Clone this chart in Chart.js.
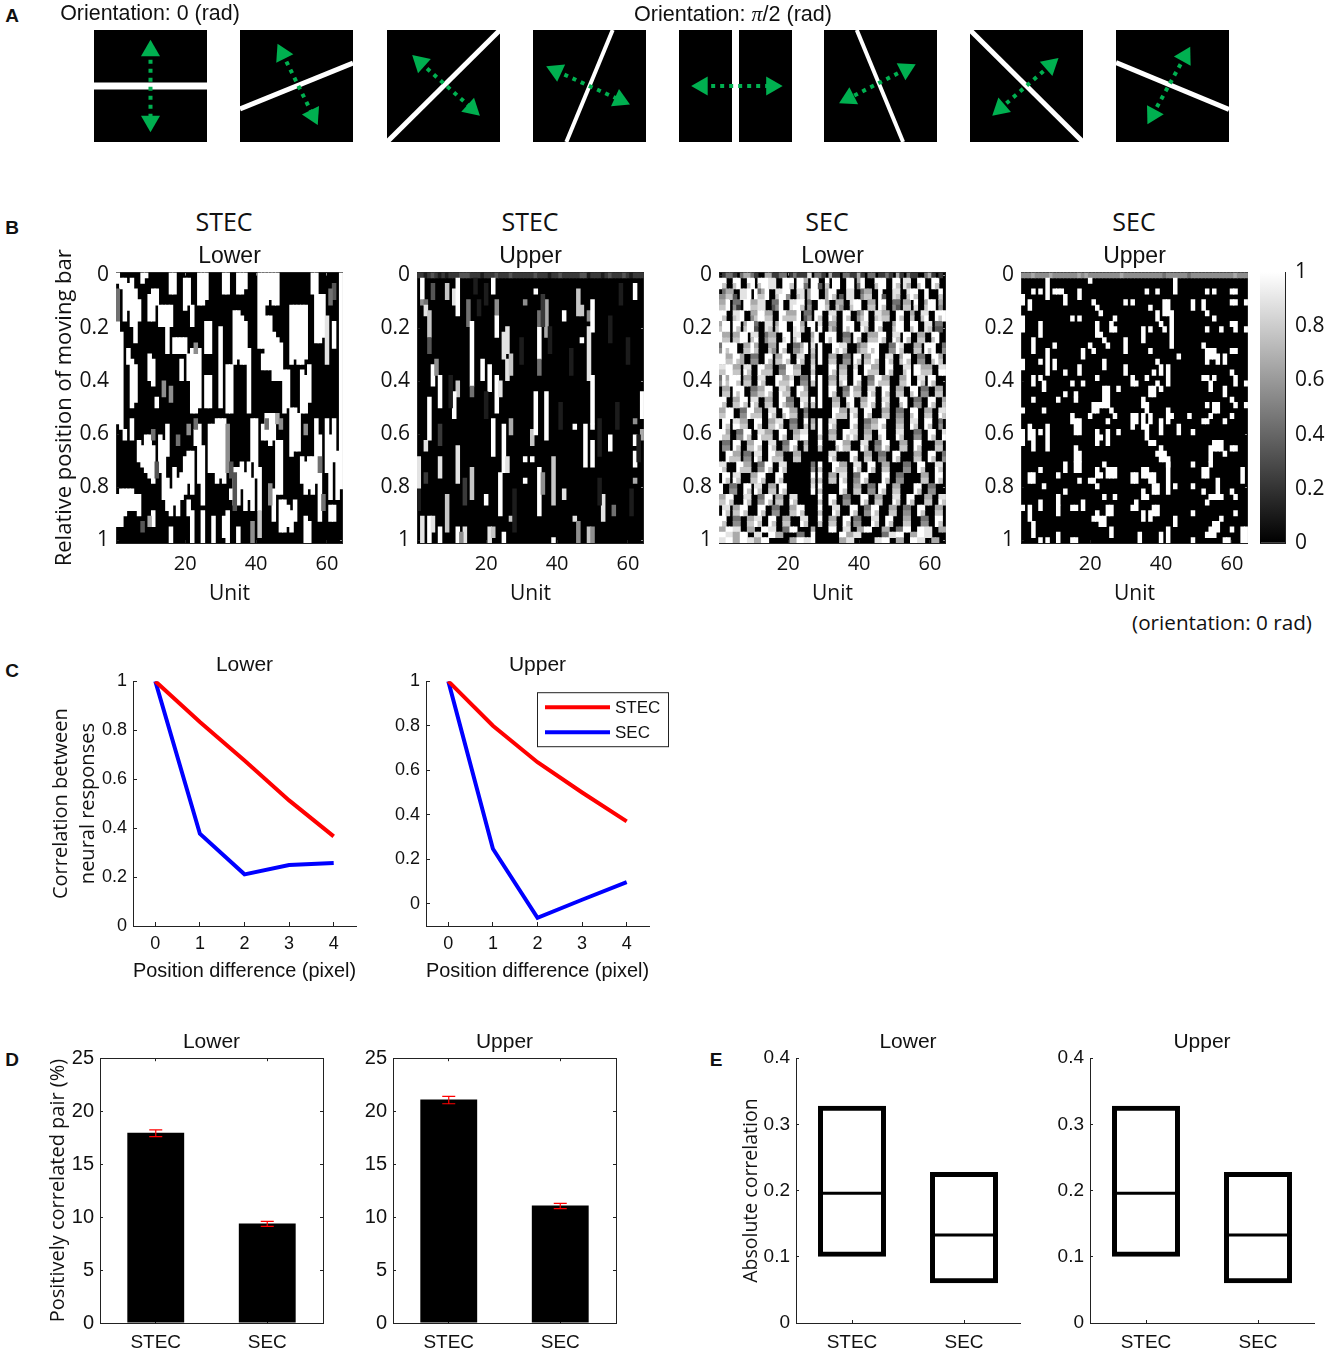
<!DOCTYPE html>
<html>
<head>
<meta charset="utf-8">
<title>Neural response figure</title>
<script src="https://cdn.jsdelivr.net/npm/chart.js@4"></script>
<style>
  body { margin: 0; background: #fff; width: 1325px; height: 1352px; position: relative; overflow: hidden; }
  canvas { position: absolute; }
  .lbl { position: absolute; white-space: nowrap; color: #111; transform: translate(-50%, -50%); }
</style>
</head>
<body>
<script>
// Panel A: bar end points and arrow heads, in a -1..1 box
var barEnds = [
  [[-1, 0], [1, 0]], [[-1, -0.41], [1, 0.41]], [[-1, -1], [1, 1]], [[-0.41, -1], [0.41, 1]],
  [[0, -1], [0, 1]], [[-0.42, 1], [0.4, -1]], [[-1, 1], [1, -1]], [[-1, 0.42], [1, -0.42]]
];
var arrowEnds = [
  [[0, 0.63], [0, -0.63]], [[-0.25, 0.58], [0.29, -0.52]], [[-0.41, 0.42], [0.5, -0.4]], [[-0.59, 0.27], [0.54, -0.25]],
  [[-0.59, 0], [0.64, 0]], [[0.45, 0.3], [-0.56, -0.22]], [[0.42, 0.37], [-0.46, -0.4]], [[0.22, 0.53], [-0.35, -0.51]]
];
var barWidths = [7, 5, 5, 4, 7, 4, 5, 5];
var squareLefts = [94, 240, 387, 533, 679, 824, 970, 1116];

// Panel B: responses, levels 0 (black) to 9 (white), rows 0..49, units 1..64
var positionTicks = [0, 0.2, 0.4, 0.6, 0.8, 1];
var unitTicks = [20, 40, 60];

// white runs per unit: from,to,from,to...
var stecLowerWhite = [
  [0,1,9,27,41,46],[1,2,11,28,40,46],[1,8,29,30,40,44],[2,6,14,16,40,43],[1,9,16,24,27,30,40,43],[3,12,17,23,41,43],
  [5,8,31,34,41,44],[0,1,32,35],[0,0,30,36],[4,8,15,19,30,37],[3,8,16,20,32,38,44,46],[3,5,23,24],
  [6,9,30,36],[6,9,31,41],[6,14,28,33,38,43],[0,3,6,9,40,44,47,49],[0,3,12,14,36,42],[12,14,38,44],
  [12,14,16,19,37,41],[1,6,12,14,34,40],[1,5,15,19,33,38,42,44],[6,9,14,25,33,40,44,49],[14,25,29,31],[0,5,14,24,28,38],
  [0,5,32,42,44,49],[0,4,9,14,19,24],[9,14,19,24,28,36],[28,36,45,49],[27,38],[10,24,27,37],[0,3,27,38,45,48],
  [0,3,17,25,44,49],[17,25,40,41],[7,16,36,42],[0,3,7,15,36,42,47,49],[0,3,8,16,35,39],[0,2,9,16,37,43],[14,25,35,41],
  [27,34,38,43],[27,37],[0,13,36,43],[0,13,15,17,28,30],[0,5,8,17,26,30],[0,4,8,17,26,31],[0,5,11,19,26,30,40,45],
  [0,5,12,19,31,40],[13,19,31,40,42,47],[18,25,42,47],[18,24,43,46],[6,16,25,33,44,47],[6,15,25,32,42,45],[6,16,26,32],
  [6,16,18,25,34,38],[6,15,19,25,35,40,45,49],[17,23,34,39,46,49],[0,3,34,40],[0,3,4,12,27,38],[4,12,30,45],[4,11],
  [27,36],[30,41,43,45],[9,13,27,34,43,45],[33,41],[0,39]
];
// unit, first row, last row, level
var stecLowerGray = [
  [1,3,8,4],[23,13,14,5],[11,29,30,4],[12,35,37,3],[14,20,22,5],[16,21,23,5],[18,30,31,4],[21,28,29,5],[23,27,28,4],
  [32,28,36,5],[33,35,37,3],[34,37,43,3],[43,27,28,4],[44,39,42,5],[46,26,27,6],[47,27,28,5],[54,28,29,5],[58,34,36,4],
  [59,41,43,4],[62,2,4,3],[61,3,5,4],[39,46,49,5],[41,44,48,7],[10,45,46,6],[8,46,47,3],[60,8,16,8]
];

var stecUpperTop = "2212321212223332221222322232222223222122322222331222123222321222";
var stecUpperCells = [
  [2,1,4,9],[2,5,5,5],[3,5,5,4],[3,6,7,8],[4,7,11,7],[4,12,14,3],[5,2,4,3],[9,2,4,7],[11,3,5,8],[12,1,7,9],
  [15,5,9,4],[16,9,20,9],[16,21,22,4],[19,16,19,9],[21,17,21,9],[22,1,3,9],[23,5,7,5],[23,8,11,9],
  [25,11,15,8],[26,10,14,8],[26,16,19,8],[27,15,18,7],[31,5,5,5],[34,3,3,9],[35,10,15,9],[35,16,18,4],[35,7,9,4],[37,5,11,6],
  [42,7,8,9],[46,3,7,7],[47,6,7,7],[47,12,12,9],[49,7,8,5],[49,10,19,8],[50,5,10,9],[50,19,27,9],[50,31,35,9],[62,2,4,9],
  [5,17,20,9],[6,16,18,5],[7,19,24,9],[4,23,30,9],[3,31,32,8],[12,20,22,7],[11,22,26,9],[7,34,37,8],[12,32,38,8],
  [1,34,39,8],[16,36,41,7],[20,41,42,9],[24,37,44,9],[25,28,36,9],[26,34,36,8],[22,27,33,9],[23,19,25,9],[24,20,22,8],
  [27,27,29,6],[33,29,31,7],[34,22,29,9],[37,22,30,9],[31,34,34,9],[31,38,38,9],[33,34,34,9],[35,36,44,9],[36,37,40,5],[39,34,42,7],
  [42,40,41,8],[45,28,28,9],[48,28,35,9],[50,28,28,9],[53,41,45,8],[55,30,32,9],[62,27,27,5],[62,30,31,9],[62,33,35,9],[62,38,38,6],
  [64,22,26,9],[64,29,30,6],[56,43,44,4],[2,45,49,8],[4,45,49,9],[5,45,47,8],[7,47,49,9],[9,41,47,7],[12,47,49,9],
  [14,47,49,8],[13,48,49,5],[21,47,49,8],[22,47,48,7],[25,48,49,9],[27,45,45,7],[39,49,49,9],[45,45,45,8],[46,46,49,5],
  [49,47,49,7],[50,47,49,5],[3,37,38,2],[7,28,31,2],[1,40,43,1],[10,19,24,1],[14,38,42,2],[17,1,3,1],[18,5,7,1],[20,2,5,1],
  [20,22,26,1],[28,40,47,1],[30,12,16,1],[36,4,9,2],[38,10,14,1],[41,24,28,1],[44,14,18,1],[52,27,33,1],[52,38,42,1],
  [58,2,5,1],[60,12,16,1],[61,40,44,1],[63,30,34,1],[55,8,12,1],[57,24,28,1]
];

var secUpperTop = "5556555565555555656555555555655555555555455555545555555555556555";
var secUpperCells = [
  [8,1,4],[4,3,3],[6,3,3],[10,3,3],[11,3,3],[12,3,3],[13,4,5],[17,3,4],[20,1,1],[36,3,3],[39,3,3],[44,1,3],[53,3,3],[55,3,3],[60,3,3],[61,3,3],
  [1,4,5],[3,5,6],[21,5,5],[22,6,6],[23,7,7],[30,5,5],[32,5,5],[37,6,6],[39,7,8],[41,5,7],[42,5,7],[49,5,6],[52,5,6],[53,7,7],[60,5,5],[61,5,5],[64,5,5],
  [15,8,8],[17,8,8],[22,9,11],[23,11,11],[24,12,12],[25,13,13],[27,8,8],[26,9,10],[27,10,10],[35,10,12],[37,10,10],[40,9,9],[41,10,10],[43,7,13],[55,8,8],[53,10,10],[57,10,10],[60,9,9],[61,9,10],[64,10,10],[1,8,10],[6,9,11],
  [4,12,14],[10,13,13],[20,13,13],[21,14,14],[30,12,14],[37,14,14],[18,14,15],[45,15,15],[52,13,13],[53,14,16],[54,14,15],[55,14,15],[56,15,16],[58,15,16],[60,14,14],[61,14,14],[6,16,16],[1,16,17],[8,14,18],[10,16,17],
  [13,18,18],[17,17,18],[24,16,17],[30,17,18],[39,16,16],[38,18,18],[40,17,18],[42,17,20],[4,19,20],[6,19,19],[7,20,21],[15,20,20],[16,22,22],[18,20,20],[22,19,19],[32,19,20],[33,20,20],[36,19,19],[38,21,22],[39,20,20],[40,21,21],[52,19,19],[53,19,19],[54,20,21],[55,19,19],[60,18,18],[61,19,20],[64,20,20],
  [24,21,24],[25,21,24],[23,24,24],[21,24,25],[22,24,25],[26,25,25],[27,26,26],[16,23,23],[11,23,23],[13,22,22],[4,23,23],[1,25,25],[7,25,25],[20,26,26],[28,21,21],[35,23,24],[36,24,25],[37,21,22],[42,25,27],[43,26,26],[48,26,26],[53,24,24],[55,24,25],[56,24,25],[54,26,26],[60,23,23],[61,24,24],[58,21,22],[64,24,24],
  [15,26,27],[16,27,29],[17,27,29],[25,27,27],[32,26,28],[33,26,27],[35,26,28],[36,28,30],[37,26,27],[40,27,29],[45,28,29],[52,27,27],[53,27,27],[58,27,27],[60,26,26],[3,28,30],[4,29,32],[6,29,29],[8,28,32],[1,29,31],
  [22,29,31],[23,30,30],[25,29,31],[28,29,29],[16,32,34],[17,33,34],[37,31,31],[38,31,31],[39,33,33],[40,32,34],[41,33,34],[49,29,29],[55,31,32],[56,31,32],[57,31,32],[54,32,34],[58,33,33],[60,32,32],[61,32,32],[42,34,35],
  [42,35,40],[13,35,36],[16,35,36],[17,35,36],[6,36,36],[3,37,38],[4,37,38],[11,37,37],[17,38,38],[20,38,38],[21,38,38],[22,36,37],[24,35,35],[25,36,37],[26,36,37],[27,36,37],[23,37,37],[32,37,38],[33,37,38],[35,36,37],[36,36,37],[37,37,38],[38,37,38],[49,35,35],[52,36,37],[53,36,37],[54,35,35],[63,36,38],
  [7,39,39],[11,41,42],[13,40,40],[6,42,43],[22,39,39],[24,41,41],[27,41,41],[33,42,43],[35,40,41],[36,41,41],[38,39,40],[39,39,40],[44,39,39],[49,39,39],[56,38,41],[54,41,41],[55,41,41],[57,41,41],[52,40,40],[53,42,42],[60,40,40],[61,41,41],
  [3,43,45],[1,43,43],[11,43,44],[15,43,43],[16,43,43],[18,42,43],[22,44,44],[25,43,44],[26,43,44],[21,45,45],[22,45,45],[23,45,46],[24,45,46],[26,47,48],[32,43,43],[35,44,45],[37,44,45],[38,43,44],[39,43,44],[44,45,46],[49,44,44],[54,47,48],[55,46,48],[56,46,47],[57,45,45],[53,48,48],[61,44,44],
  [4,46,48],[60,47,47],[6,49,49],[8,49,49],[11,48,49],[15,49,49],[16,49,49],[34,48,49],[40,48,49],[42,47,49],[49,49,49],[58,49,49],[59,49,49],[63,47,49],[64,47,49]
];

var secLowerRows = [
  "0244204664200662244024222804420622044226204402242062042200462020",
  "9900990099099988009990996099009099009906900099900990880099009900",
  "9700790079079988009970994099307099009904900079900970860079009700",
  "0466008890946900889900880699006990008800466009000880089900900090",
  "5577308890977900799500780699006970308800577009300870079700900070",
  "6690440996688004490088990400996006600899006609900440660900699060",
  "7790520997788003590089970500997007500799007709700530770800799050",
  "9900889006699660099666904409900880099004690088660099006008800999",
  "9700789005799770097777903509700970097005790078770097007007900979",
  "6990990699400880699009960990800660099900880099000699009900880440",
  "7990970799300870799008970090900750097900970097000799007900870330",
  "9660669908800466009908800069009990044099006669900880990066009900",
  "9770779907900577008907900079009790055097007779700970970077007900",
  "4999900669600066099004469080900099880004669990004498000660999004",
  "5979900779700075097005579070900097970005779790005597000770979005",
  "9966996004400990669900880060900660044099066990088006990044009960",
  "9977976005500970779700970070900770055097077970097007970055007970",
  "8899660880099660044996600080000990660080099660099000880996660088",
  "7799770970097770055997700070000970770090097770097000790997770099",
  "4969990660088000996680044090900660880099004499660006690088099000",
  "5979970770097000977790055070900770790097005597770007790097097000",
  "0660999004466990088600996000900990044966008800990066009904400660",
  "0770979005577970097700977000900970055977009700970077007905500770",
  "9900669908800660099440088090900066009900669900880009900440099006",
  "9700779709700770097550097070900077007900779700970007900550097007",
  "6699004499660088009966004000000099660880099000660044009900660088",
  "7799005597770097007977005000000097770970097000770055007900770097",
  "0990886600990066880044009060900880000990044669900066008800990040",
  "0970997700970077970055007070900970000970055779700077009700970050",
  "9960044990088660099006688000900660099880066009900088000440099008",
  "9770055970097770097007799000700770097970077007900097000550097009",
  "0440990066990088004499006000900009966000880044990006600990000660",
  "0550970077970097005597007000700007977000970055970007700970000770",
  "0099660440880099660006600000000880000990066004400990000660099004",
  "0097770550970097770007700000000970000970077005500970000770097005",
  "8800099660044990088000000040900099660088009900660000440099000880",
  "9700097770055970097000000050700097770097009700770000550097000970",
  "0990880006699000990000000090900660880044990000990044000006600990",
  "0970970007797000970000000070700770970055970000970055000007700970",
  "9004400990880066099000000080900000990066004409900660000990044000",
  "9005500970970077097000000090700000970077005509700770000970055000",
  "6699000880044990660088000000900990044000990066000880099000660088",
  "7797000970055970770097000000700970055000970077000970097000770097",
  "0880669900099004400066990000900088000990044990006600440099000660",
  "0970779700097005500077970000700097000970055970007700550097000770",
  "9900440066880099006600088000900660099044000880099000660004400990",
  "9700550077970097007700097000700770097055000970097000770005500970",
  "6699880066009988004499000060000990088006699000660044990099880066",
  "9988669900880099660000440090000000996688000000448899006699880000",
  "8899669988669900000066998890000000668800000088990066009988006600"
];

// colour bar
var barTicks = [0, 0.2, 0.4, 0.6, 0.8, 1];

// Panel C
var diffLabels = ["0", "1", "2", "3", "4"];
var corrLowerStec = [1, 0.833, 0.676, 0.513, 0.366];
var corrLowerSec = [1, 0.377, 0.211, 0.249, 0.257];
var corrUpperStec = [1, 0.8, 0.636, 0.5, 0.37];
var corrUpperSec = [1, 0.247, -0.063, 0.018, 0.097];

// Panel D
var modelNames = ["STEC", "SEC"];
var pairLower = [17.95, 9.4];
var pairLowerErrLow = [17.6, 9.12];
var pairLowerErrHigh = [18.24, 9.6];
var pairUpper = [21.1, 11.1];
var pairUpperErrLow = [20.7, 10.8];
var pairUpperErrHigh = [21.4, 11.3];

// Panel E
var absLowerBox = [[0.1, 0.328], [0.06, 0.228]];
var absLowerMedian = [0.196, 0.133];
var absUpperBox = [[0.1, 0.328], [0.06, 0.228]];
var absUpperMedian = [0.196, 0.133];

var axisColor = "#222";
var arial = "'Liberation Sans', Arial, sans-serif";
var openSans = "'Open Sans', sans-serif";

function label(html, x, y, size, family, bold) {
  var d = document.createElement("div");
  d.className = "lbl";
  d.innerHTML = html;
  d.style.left = x + "px";
  d.style.top = y + "px";
  d.style.fontSize = size + "px";
  d.style.fontFamily = family;
  if (bold) d.style.fontWeight = "bold";
  document.body.appendChild(d);
}

// place a chart so that its plot area lands on the given rectangle
function place(r, config) {
  var titleH = 0;
  var t = config.options.plugins.title;
  if (t && t.display) titleH = t.font.size * 1.2 + t.padding.bottom;
  var topGap = r.topGap !== undefined ? r.topGap : (titleH > 0 ? 0 : 16);
  var c = document.createElement("canvas");
  c.width = Math.round(r.left + r.w + r.right + (r.axisRight || 0));
  c.height = Math.round(topGap + titleH + r.h + r.bottom);
  c.style.left = (r.x - r.left) + "px";
  c.style.top = (r.y - titleH - topGap) + "px";
  document.body.appendChild(c);
  config.options.responsive = false;
  config.options.animation = false;
  config.options.events = [];
  config.options.layout = { autoPadding: false, padding: { left: 0, right: r.right, top: topGap, bottom: 0 } };
  config.options.plugins.legend = { display: false };
  config.options.plugins.tooltip = { enabled: false };
  return new Chart(c, config);
}

function chartTitle(text, size, pad) {
  return { display: true, text: text, fullSize: false, color: "#111", font: { family: arial, size: size, weight: "normal" }, padding: { top: 0, bottom: pad } };
}

function axisTitle(text, family, size, lh) {
  return { display: true, text: text, color: "#111", font: { family: family, size: size, lineHeight: lh || 1.2 }, padding: 0 };
}

function fixedAxis(base, size, isWidth) {
  base.afterFit = function (s) { if (isWidth) s.width = size; else s.height = size; };
  return base;
}

var blackBack = {
  id: "blackBack",
  beforeDraw: function (chart) {
    var a = chart.chartArea;
    chart.ctx.fillStyle = "#000";
    chart.ctx.fillRect(a.left, a.top, a.right - a.left, a.bottom - a.top);
  }
};

// Panel A
squareLefts.forEach(function (left, i) {
  var tip = arrowEnds[i];
  function turn(a, b) { return Math.atan2(a[0] - b[0], a[1] - b[1]) * 180 / Math.PI; }
  place({ x: left, y: 30, w: 113, h: 112, left: 0, right: 0, bottom: 0 }, {
    type: "scatter",
    data: {
      datasets: [
        {
          data: tip.map(function (p) { return { x: p[0], y: p[1] }; }),
          showLine: true, order: 0, borderColor: "#00b050", borderWidth: 4, borderDash: [4, 5],
          pointStyle: "triangle", pointRadius: 11, pointBackgroundColor: "#00b050", pointBorderWidth: 0,
          pointRotation: [turn(tip[0], tip[1]), turn(tip[1], tip[0])]
        },
        {
          data: barEnds[i].map(function (p) { return { x: p[0], y: p[1] }; }),
          showLine: true, order: 1, borderColor: "#fff", borderWidth: barWidths[i], pointRadius: 0
        }
      ]
    },
    options: {
      plugins: {},
      scales: {
        x: { display: false, min: -1, max: 1 },
        y: { display: false, min: -1, max: 1 }
      }
    },
    plugins: [blackBack]
  });
});

// Panel B helpers
function gray(level) {
  var g = Math.round(level / 9 * 255);
  return "rgb(" + g + "," + g + "," + g + ")";
}

function cellsToBars(cells) {
  var half = 0.5 / 49;
  return {
    data: cells.map(function (c) { return { x: c[0], y: [c[1] / 49 - half, c[2] / 49 + half] }; }),
    backgroundColor: cells.map(function (c) { return gray(c[3]); }),
    borderWidth: 0,
    barThickness: 3.85,
    grouped: false
  };
}

function runsToCells(runs, level) {
  var out = [];
  runs.forEach(function (list, u) {
    for (var k = 0; k < list.length; k += 2) out.push([u + 1, list[k], list[k + 1], level]);
  });
  return out;
}

function topRowCells(row) {
  return row.split("").map(function (ch, u) { return [u + 1, 0, 0, Number(ch)]; });
}

function rowsToCells(rows) {
  var out = [];
  for (var u = 0; u < 64; u++) {
    var r = 0;
    while (r < rows.length) {
      var v = Number(rows[r][u] || 0);
      var end = r;
      while (end + 1 < rows.length && Number(rows[end + 1][u] || 0) === v) end++;
      if (v > 0) out.push([u + 1, r, end, v]);
      r = end + 1;
    }
  }
  return out;
}

function heatPanel(x, cells, title, yTitle) {
  var yMin = -0.5 / 49, yMax = 1 + 0.5 / 49;
  function posTicks(s) { s.ticks = positionTicks.map(function (v) { return { value: v }; }); }
  function unTicks(s) { s.ticks = unitTicks.map(function (v) { return { value: v }; }); }
  var yAxis = fixedAxis({
    type: "linear", reverse: true, min: yMin, max: yMax, position: "left",
    afterBuildTicks: posTicks,
    grid: { drawOnChartArea: false, tickLength: -3, tickColor: axisColor },
    border: { color: axisColor },
    ticks: { color: "#111", autoSkip: false, padding: 10, font: { family: openSans, size: 21 }, callback: function (v) { return String(v); } }
  }, 64, true);
  if (yTitle) yAxis.title = axisTitle(yTitle, openSans, 22);
  place({ x: x, y: 273, w: 229, h: 270, left: 64, right: 6, bottom: 64 }, {
    type: "bar",
    data: { datasets: [cellsToBars(cells)] },
    options: {
      plugins: { title: chartTitle(title, 23, 2) },
      scales: {
        x: fixedAxis({
          type: "linear", min: 0.5, max: 64.5, offset: false,
          afterBuildTicks: unTicks,
          grid: { offset: false, drawOnChartArea: false, tickLength: -3, tickColor: axisColor },
          border: { color: axisColor },
          title: axisTitle("Unit", openSans, 21),
          ticks: { color: "#111", maxRotation: 0, autoSkip: false, padding: 12, font: { family: openSans, size: 20 }, callback: function (v) { return String(v); } }
        }, 64, false),
        x2: fixedAxis({
          type: "linear", position: "top", min: 0.5, max: 64.5, offset: false,
          afterBuildTicks: unTicks,
          grid: { offset: false, drawOnChartArea: false, tickLength: -3, tickColor: "#888" },
          border: { color: axisColor }, ticks: { display: false }
        }, 0, false),
        y: yAxis,
        y2: fixedAxis({
          type: "linear", position: "right", reverse: true, min: yMin, max: yMax,
          afterBuildTicks: posTicks,
          grid: { drawOnChartArea: false, tickLength: -3, tickColor: "#888" },
          border: { color: axisColor }, ticks: { display: false }
        }, 0, true)
      }
    },
    plugins: [blackBack]
  });
}

heatPanel(115.7, runsToCells(stecLowerWhite, 9).concat(stecLowerGray), "Lower", "Relative position of moving bar");
heatPanel(417.3, topRowCells(stecUpperTop).concat(stecUpperCells), "Upper");
heatPanel(719.3, rowsToCells(secLowerRows), "Lower");
heatPanel(1021, topRowCells(secUpperTop).concat(secUpperCells.map(function (c) { return [c[0], c[1], c[2], 9]; })), "Upper");

// colour bar, tick labels need room above and below the plot
place({ x: 1260, y: 272, w: 25, h: 271, left: 0, right: 0, axisRight: 40, bottom: 28, topGap: 28 }, {
  type: "bar",
  data: {
    labels: [""],
    datasets: [{
      data: [[0, 1]],
      barPercentage: 1, categoryPercentage: 1, borderWidth: 0,
      backgroundColor: function (ctx) {
        var a = ctx.chart.chartArea;
        if (!a) return "#888";
        var g = ctx.chart.ctx.createLinearGradient(0, a.bottom, 0, a.top);
        g.addColorStop(0, "#000");
        g.addColorStop(1, "#fff");
        return g;
      }
    }]
  },
  options: {
    plugins: {},
    scales: {
      x: fixedAxis({ grid: { display: false }, border: { color: axisColor }, ticks: { display: false } }, 28, false),
      x2: fixedAxis({ type: "category", labels: [""], position: "top", grid: { display: false }, border: { color: axisColor }, ticks: { display: false } }, 0, false),
      y: fixedAxis({
        type: "linear", position: "right", min: 0, max: 1,
        afterBuildTicks: function (s) { s.ticks = barTicks.map(function (v) { return { value: v }; }); },
        grid: { drawOnChartArea: false, tickLength: -3, tickColor: "#777" },
        border: { color: axisColor },
        ticks: { color: "#111", padding: 13, autoSkip: false, font: { family: openSans, size: 21 }, callback: function (v) { return String(v); } }
      }, 40, true),
      y2: fixedAxis({ type: "linear", position: "left", min: 0, max: 1, grid: { display: false }, border: { color: axisColor }, ticks: { display: false } }, 0, true)
    }
  }
});

// Panel C
var corrLegend = {
  id: "corrLegend",
  afterDraw: function (chart) {
    var c = chart.ctx, a = chart.chartArea;
    var x = a.left + 111, y = a.top + 11;
    c.save();
    c.fillStyle = "#fff";
    c.strokeStyle = "#222";
    c.lineWidth = 1;
    c.fillRect(x, y, 132, 55);
    c.strokeRect(x + 0.5, y + 0.5, 131, 54);
    chart.data.datasets.forEach(function (d, i) {
      var ly = y + 15 + i * 25;
      c.strokeStyle = d.borderColor;
      c.lineWidth = 4;
      c.beginPath();
      c.moveTo(x + 8, ly);
      c.lineTo(x + 73, ly);
      c.stroke();
      c.fillStyle = "#111";
      c.font = "17px " + arial;
      c.textBaseline = "middle";
      c.fillText(d.label, x + 78, ly + 1);
    });
    c.restore();
  }
};

function corrPanel(x, title, stec, sec, yMin, yTitle, extra) {
  var yAxis = fixedAxis({
    type: "linear", min: yMin, max: 1,
    afterBuildTicks: function (s) { s.ticks = [0, 0.2, 0.4, 0.6, 0.8, 1].map(function (v) { return { value: v }; }); },
    grid: { drawOnChartArea: false, tickLength: -4, tickColor: axisColor },
    border: { color: axisColor },
    ticks: { color: "#111", autoSkip: false, padding: 10, font: { family: arial, size: 18 }, callback: function (v) { return String(v); } }
  }, 85, true);
  if (yTitle) yAxis.title = axisTitle(yTitle, openSans, 20, 1.35);
  place({ x: x, y: 681, w: 223, h: 245, left: 85, right: 24, bottom: 58 }, {
    type: "line",
    data: {
      labels: diffLabels,
      datasets: [
        { label: "STEC", data: stec, borderColor: "#ff0000", borderWidth: 4, pointRadius: 0, tension: 0 },
        { label: "SEC", data: sec, borderColor: "#0000ff", borderWidth: 4, pointRadius: 0, tension: 0 }
      ]
    },
    options: {
      plugins: { title: chartTitle(title, 21, 3) },
      scales: {
        x: fixedAxis({
          offset: true,
          grid: { offset: false, drawOnChartArea: false, tickLength: -4, tickColor: axisColor },
          border: { color: axisColor },
          title: axisTitle("Position difference (pixel)", arial, 21),
          ticks: { color: "#111", padding: 11, maxRotation: 0, font: { family: arial, size: 18 } }
        }, 58, false),
        y: yAxis
      }
    },
    plugins: extra || []
  });
}

corrPanel(133, "Lower", corrLowerStec, corrLowerSec, 0, ["Correlation between", "neural responses"]);
corrPanel(426, "Upper", corrUpperStec, corrUpperSec, -0.1, null, [corrLegend]);

// Panel D
function errorBars(low, high) {
  return {
    id: "errorBars",
    afterDatasetsDraw: function (chart) {
      var c = chart.ctx, xs = chart.scales.x, ys = chart.scales.y;
      c.save();
      c.strokeStyle = "#ff0000";
      c.lineWidth = 1.2;
      low.forEach(function (v, i) {
        var x = xs.getPixelForValue(i), y0 = ys.getPixelForValue(v), y1 = ys.getPixelForValue(high[i]);
        c.beginPath();
        c.moveTo(x, y0); c.lineTo(x, y1);
        c.moveTo(x - 6.5, y0); c.lineTo(x + 6.5, y0);
        c.moveTo(x - 6.5, y1); c.lineTo(x + 6.5, y1);
        c.stroke();
      });
      c.restore();
    }
  };
}

function pairPanel(x, title, values, low, high, yTitle) {
  var left = yTitle ? 54 : 40;
  var yAxis = fixedAxis({
    type: "linear", min: 0, max: 25,
    ticks: { color: "#111", stepSize: 5, padding: 9, font: { family: arial, size: 20 } },
    grid: { drawOnChartArea: false, tickLength: -3, tickColor: axisColor },
    border: { color: axisColor }
  }, left, true);
  if (yTitle) yAxis.title = axisTitle(yTitle, openSans, 20);
  place({ x: x, y: 1058, w: 223, h: 265, left: left, right: 6, bottom: 29 }, {
    type: "bar",
    data: {
      labels: modelNames,
      datasets: [{ data: values, backgroundColor: "#000", barPercentage: 0.51, categoryPercentage: 1 }]
    },
    options: {
      plugins: { title: chartTitle(title, 21, 3) },
      scales: {
        x: fixedAxis({
          grid: { offset: false, drawOnChartArea: false, tickLength: -3, tickColor: axisColor },
          border: { color: axisColor },
          ticks: { color: "#111", padding: 11, font: { family: arial, size: 19 } }
        }, 29, false),
        x2: fixedAxis({
          type: "category", labels: modelNames, position: "top", offset: true,
          grid: { offset: false, drawOnChartArea: false, tickLength: -3, tickColor: axisColor },
          border: { color: axisColor }, ticks: { display: false }
        }, 0, false),
        y: yAxis,
        y2: fixedAxis({
          type: "linear", position: "right", min: 0, max: 25,
          ticks: { display: false, stepSize: 5 },
          grid: { drawOnChartArea: false, tickLength: -3, tickColor: axisColor },
          border: { color: axisColor }
        }, 0, true)
      }
    },
    plugins: [errorBars(low, high)]
  });
}

pairPanel(100, "Lower", pairLower, pairLowerErrLow, pairLowerErrHigh, "Positively correlated pair (%)");
pairPanel(393, "Upper", pairUpper, pairUpperErrLow, pairUpperErrHigh);

// Panel E
function medianLines(values) {
  return {
    id: "medianLines",
    afterDatasetsDraw: function (chart) {
      var c = chart.ctx, ys = chart.scales.y, bars = chart.getDatasetMeta(0).data;
      c.save();
      c.strokeStyle = "#000";
      c.lineWidth = 3;
      values.forEach(function (v, i) {
        var y = ys.getPixelForValue(v);
        c.beginPath();
        c.moveTo(bars[i].x - bars[i].width / 2, y);
        c.lineTo(bars[i].x + bars[i].width / 2, y);
        c.stroke();
      });
      c.restore();
    }
  };
}

function absPanel(x, title, boxes, medians, yTitle) {
  var left = yTitle ? 56 : 40;
  var yAxis = fixedAxis({
    type: "linear", min: 0, max: 0.4,
    ticks: { color: "#111", stepSize: 0.1, padding: 9, font: { family: arial, size: 19 } },
    grid: { drawOnChartArea: false, tickLength: -3, tickColor: axisColor },
    border: { color: axisColor }
  }, left, true);
  if (yTitle) yAxis.title = axisTitle(yTitle, openSans, 19.5);
  place({ x: x, y: 1058, w: 224, h: 265, left: left, right: 6, bottom: 29 }, {
    type: "bar",
    data: {
      labels: modelNames,
      datasets: [{
        data: boxes, backgroundColor: "rgba(0,0,0,0)", borderColor: "#000", borderWidth: 5,
        borderSkipped: false, barPercentage: 0.607, categoryPercentage: 1
      }]
    },
    options: {
      plugins: { title: chartTitle(title, 21, 3) },
      scales: {
        x: fixedAxis({
          grid: { offset: false, drawOnChartArea: false, tickLength: -3, tickColor: axisColor },
          border: { color: axisColor },
          ticks: { color: "#111", padding: 11, font: { family: arial, size: 19 } }
        }, 29, false),
        y: yAxis
      }
    },
    plugins: [medianLines(medians)]
  });
}

absPanel(796, "Lower", absLowerBox, absLowerMedian, "Absolute correlation");
absPanel(1089.5, "Upper", absUpperBox, absUpperMedian);

// Free standing text
label("A", 12, 16, 19, arial, true);
label("B", 12, 228, 19, arial, true);
label("C", 12, 671, 19, arial, true);
label("D", 12, 1060, 19, arial, true);
label("E", 716, 1060, 19, arial, true);
label("Orientation: 0 (rad)", 150, 13, 21.4, arial);
label("Orientation: <i style=\"font-family:'Liberation Serif',serif\">&pi;</i>/2 (rad)", 733, 14, 21.6, arial);
label("STEC", 224, 221, 25, openSans);
label("STEC", 530, 221, 25, openSans);
label("SEC", 827, 221, 25, openSans);
label("SEC", 1134, 221, 25, openSans);
label("(orientation: 0 rad)", 1222, 622, 20.7, openSans);
</script>
</body>
</html>
